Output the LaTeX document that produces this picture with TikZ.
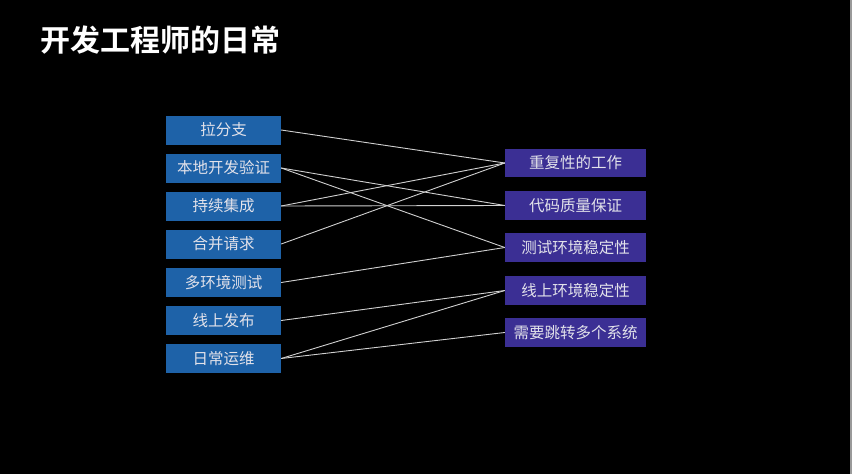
\documentclass[tikz,border=0pt]{standalone}
\usepackage{fontspec}
\newfontfamily\cjk{Noto Sans CJK SC}
\newfontfamily\cjkb{Noto Sans CJK SC Bold}
\definecolor{lbox}{HTML}{1E62A8}
\definecolor{rbox}{HTML}{3B2F94}
\definecolor{boxtxt}{HTML}{E2E2EA}
\definecolor{wire}{HTML}{D0D0D0}
\definecolor{edge}{HTML}{9A9A9A}
\begin{document}
\begin{tikzpicture}[x=1pt,y=-1pt,
  lnode/.style={fill=lbox, minimum width=115pt, minimum height=29pt, inner sep=0pt, text=boxtxt, font=\cjk\fontsize{15.5pt}{17pt}\selectfont},
  rnode/.style={fill=rbox, minimum width=141pt, minimum height=28.5pt, inner sep=0pt, text=boxtxt, font=\cjk\fontsize{15.5pt}{17pt}\selectfont},
  wireline/.style={draw=wire, line width=0.9pt}]
\useasboundingbox (0,0) rectangle (852,474);
\fill[black] (0,0) rectangle (852,474);
\fill[edge] (850,0) rectangle (852,474);
\node[anchor=west, text=white, font=\cjkb\fontsize{30pt}{33pt}\selectfont, inner sep=0pt] (title) at (40,40) {开发工程师的日常};

\node[lnode] (l1) at (223.5,130) {拉分支};
\node[lnode] (l2) at (223.5,168) {本地开发验证};
\node[lnode] (l3) at (223.5,206) {持续集成};
\node[lnode] (l4) at (223.5,244) {合并请求};
\node[lnode] (l5) at (223.5,282.5) {多环境测试};
\node[lnode] (l6) at (223.5,320.5) {线上发布};
\node[lnode] (l7) at (223.5,358.5) {日常运维};

\node[rnode] (r1) at (575.5,163) {重复性的工作};
\node[rnode] (r2) at (575.5,205.5) {代码质量保证};
\node[rnode] (r3) at (575.5,247.5) {测试环境稳定性};
\node[rnode] (r4) at (575.5,290.5) {线上环境稳定性};
\node[rnode] (r5) at (575.5,332.5) {需要跳转多个系统};

\draw[wireline] (l1.east) -- (r1.west);
\draw[wireline] (l2.east) -- (r2.west);
\draw[wireline] (l2.east) -- (r3.west);
\draw[wireline] (l3.east) -- (r1.west);
\draw[wireline] (l3.east) -- (r2.west);
\draw[wireline] (l4.east) -- (r1.west);
\draw[wireline] (l5.east) -- (r3.west);
\draw[wireline] (l6.east) -- (r4.west);
\draw[wireline] (l7.east) -- (r4.west);
\draw[wireline] (l7.east) -- (r5.west);
\end{tikzpicture}
\end{document}
